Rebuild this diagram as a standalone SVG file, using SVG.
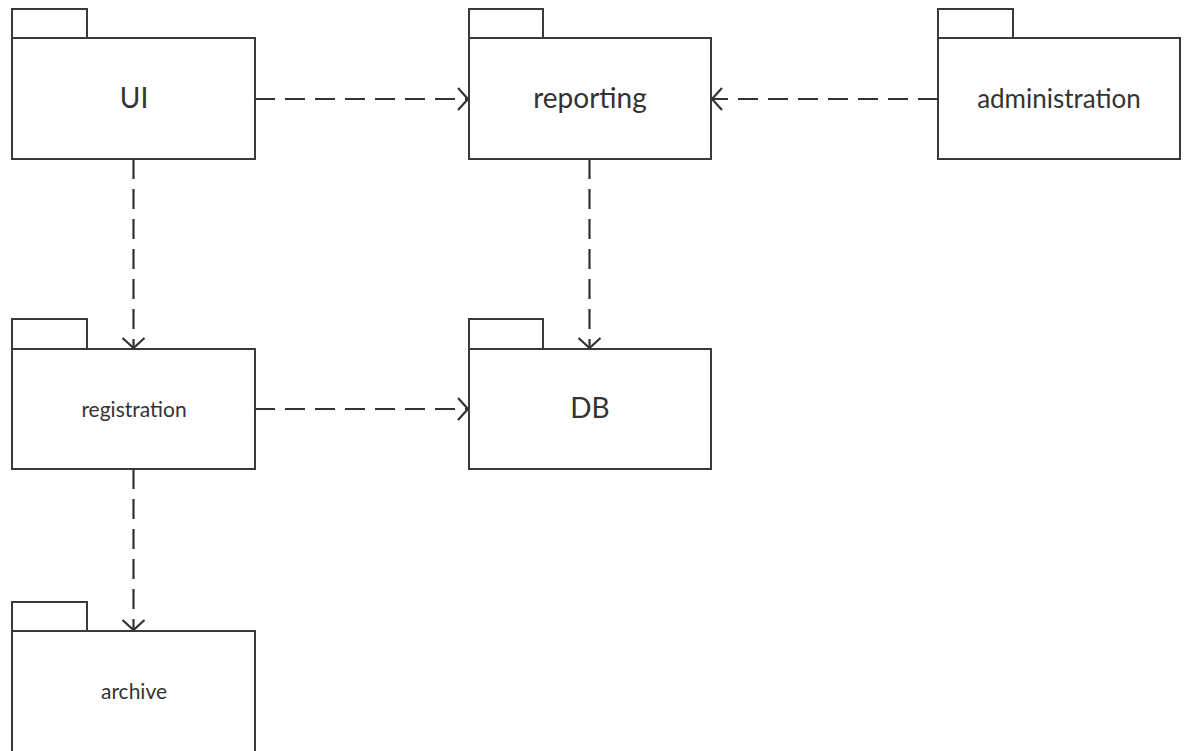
<svg xmlns="http://www.w3.org/2000/svg" width="1188" height="751" viewBox="0 0 1188 751">
<defs>
<style>
.pkg{fill:#fff;stroke:#3a3a3a;stroke-width:2}
.lbl{font-family:Lato,"Liberation Sans",sans-serif;fill:#333;text-anchor:middle}
.dep{fill:none;stroke:#333;stroke-width:2.2;stroke-dasharray:20 10}
.head{fill:none;stroke:#333;stroke-width:2.2}
</style>
</defs>
<rect width="1188" height="751" fill="#fff"/>
<g id="UI">
<rect class="pkg" x="12" y="9" width="75" height="29"/>
<rect class="pkg" x="12" y="38" width="243" height="121"/>
<text class="lbl" x="134" y="108" font-size="28">UI</text>
</g>
<g id="reporting">
<rect class="pkg" x="469" y="9" width="74" height="29"/>
<rect class="pkg" x="469" y="38" width="242" height="121"/>
<text class="lbl" x="590" y="108" font-size="28">reporting</text>
</g>
<g id="administration">
<rect class="pkg" x="938" y="9" width="75" height="29"/>
<rect class="pkg" x="938" y="38" width="242" height="121"/>
<text class="lbl" x="1059" y="108" font-size="26">administration</text>
</g>
<g id="registration">
<rect class="pkg" x="12" y="319" width="75" height="30"/>
<rect class="pkg" x="12" y="349" width="243" height="120"/>
<text class="lbl" x="134" y="417" font-size="21">registration</text>
</g>
<g id="DB">
<rect class="pkg" x="469" y="319" width="74" height="30"/>
<rect class="pkg" x="469" y="349" width="242" height="120"/>
<text class="lbl" x="590" y="418" font-size="28">DB</text>
</g>
<g id="archive">
<rect class="pkg" x="12" y="602" width="75" height="29"/>
<rect class="pkg" x="12" y="631" width="243" height="130"/>
<text class="lbl" x="134" y="699" font-size="21">archive</text>
</g>
<g id="connectors">
<line class="dep" x1="255" y1="99" x2="468" y2="99"/>
<polyline class="head" points="458,88 468,99 458,110"/>
<line class="dep" x1="938" y1="99" x2="712" y2="99"/>
<polyline class="head" points="722,88 712,99 722,110"/>
<line class="dep" x1="133.5" y1="159" x2="133.5" y2="348"/>
<polyline class="head" points="122.5,338 133.5,348 144.5,338"/>
<line class="dep" x1="589.5" y1="159" x2="589.5" y2="348"/>
<polyline class="head" points="578.5,338 589.5,348 600.5,338"/>
<line class="dep" x1="255" y1="409" x2="468" y2="409"/>
<polyline class="head" points="458,398 468,409 458,420"/>
<line class="dep" x1="133.5" y1="469" x2="133.5" y2="630"/>
<polyline class="head" points="122.5,620 133.5,630 144.5,620"/>
</g>
</svg>
